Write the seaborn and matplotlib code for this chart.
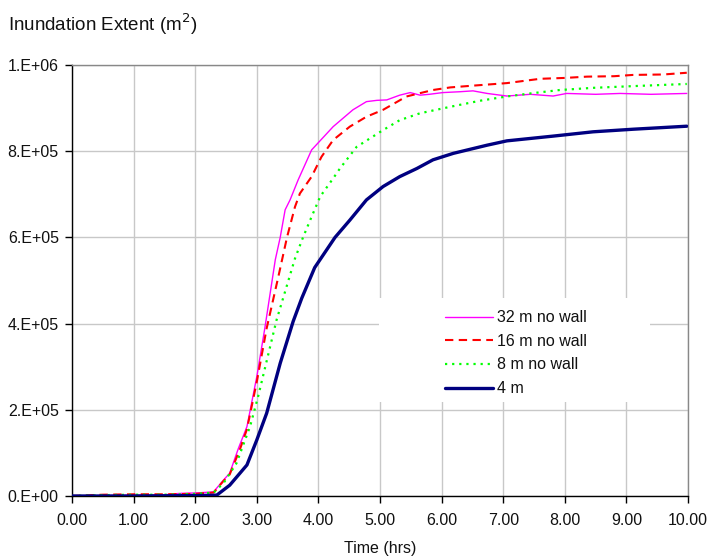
import matplotlib
matplotlib.use("Agg")
import matplotlib.pyplot as plt
from matplotlib.ticker import FuncFormatter
from matplotlib.patches import Rectangle
import pandas as pd
import seaborn as sns

# ---- data (time in hrs, extent in thousands of m^2) ----
t_32 = [0, 0.5, 1.0, 1.5, 1.75, 2.0, 2.25, 2.3, 2.46, 2.56, 2.70, 2.84, 3.00, 3.13, 3.30,
        3.38, 3.46, 3.54, 3.67, 3.89, 4.24, 4.56, 4.78, 4.95, 5.11, 5.32, 5.49, 5.65, 5.8,
        6.02, 6.3, 6.51, 6.74, 7.06, 7.44, 7.81, 8.03, 8.5, 8.9, 9.4, 9.98]
v_32 = [0, 1, 2, 3, 6, 7, 9, 10, 37, 53, 110, 161, 277, 389, 548,
        600, 664, 687, 733, 803, 857, 896, 915, 918, 919, 930, 936, 930, 932,
        936, 938, 940, 934, 928, 932, 928, 934, 932, 934, 932, 934]

t_16 = [0, 0.5, 1.0, 1.5, 2.0, 2.3, 2.46, 2.56, 2.73, 2.84, 3.00, 3.16, 3.35, 3.49, 3.62,
        3.70, 3.89, 4.05, 4.24, 4.51, 4.78, 5.05, 5.43, 5.86, 6.14, 6.5, 7.06, 7.6, 8.0,
        8.36, 8.8, 9.11, 9.6, 9.98]
v_16 = [0, 3, 4, 4, 5, 8, 35, 50, 110, 155, 265, 389, 509, 600, 671,
        702, 741, 787, 826, 857, 880, 896, 927, 942, 948, 952, 958, 968, 970,
        973, 974, 977, 978, 982]

t_8 = [0, 0.5, 1.0, 1.5, 2.0, 2.3, 2.46, 2.67, 2.89, 3.02, 3.32, 3.62, 3.75, 3.89, 4.03,
       4.24, 4.35, 4.62, 5.05, 5.32, 5.65, 6.14, 6.62, 7.06, 7.44, 7.92, 8.46, 9.11, 9.98]
v_8 = [0, 2, 3, 3, 5, 8, 30, 76, 161, 230, 408, 551, 600, 648, 695,
       737, 760, 810, 849, 872, 888, 903, 917, 927, 934, 942, 947, 951, 956]

t_4 = [0, 1.0, 2.0, 2.35, 2.56, 2.84, 3.00, 3.16, 3.38, 3.59, 3.73, 3.94, 4.27, 4.51,
       4.78, 5.05, 5.32, 5.60, 5.86, 6.19, 6.74, 7.06, 7.81, 8.46, 9.11, 9.98]
v_4 = [0, 0, 1, 2, 25, 72, 130, 192, 308, 405, 459, 530, 600, 640,
       687, 718, 741, 760, 780, 795, 814, 824, 835, 845, 851, 858]

series_names = ["32 m no wall", "16 m no wall", "8 m no wall", "4 m"]
x_ticks = [0, 1, 2, 3, 4, 5, 6, 7, 8, 9, 10]
y_ticks = [0, 200000, 400000, 600000, 800000, 1000000]

frames = []
for name, t, v in zip(series_names, [t_32, t_16, t_8, t_4], [v_32, v_16, v_8, v_4]):
    frames.append(pd.DataFrame({"time": t, "extent": [x * 1000 for x in v], "series": name}))
df = pd.concat(frames, ignore_index=True)

styles = {
    "32 m no wall": dict(color="#FF00FF", lw=1.0, ls="-"),
    "16 m no wall": dict(color="#FF0000", lw=1.5, ls=(0, (4, 2.6))),
    "8 m no wall": dict(color="#00FF00", lw=1.6, ls=(0, (1, 2.2))),
    "4 m": dict(color="#000080", lw=2.4, ls="-"),
}

sns.set_style("ticks")
plt.rcParams["font.family"] = ["Liberation Sans", "DejaVu Sans"]
plt.rcParams["font.size"] = 11.5

fig = plt.figure(figsize=(7.14, 5.58), dpi=100)
ax = fig.add_axes([72 / 714, 1 - 496 / 558, 616 / 714, 431 / 558])

for name in series_names:
    s = styles[name]
    sns.lineplot(data=df[df["series"] == name], x="time", y="extent", ax=ax,
                 color=s["color"], linewidth=s["lw"], linestyle=s["ls"],
                 label=name, zorder=3)

ax.set_xlim(0, 10)
ax.set_ylim(0, 1000000)
ax.set_xticks(x_ticks)
ax.set_yticks(y_ticks)
ax.xaxis.set_major_formatter(FuncFormatter(lambda v, p: f"{v:.2f}"))
ax.yaxis.set_major_formatter(FuncFormatter(lambda v, p: f"{v:#.0E}"))
ax.tick_params(axis="both", direction="out", length=5, width=1, color="black",
               labelsize=11.5, labelcolor="#111111")
ax.tick_params(axis="x", pad=7)
ax.tick_params(axis="y", pad=4.5)

ax.set_axisbelow(True)
ax.grid(True, color="#c8c8c8", linewidth=1.0)
for side in ["top", "right"]:
    ax.spines[side].set_visible(True)
    ax.spines[side].set_color("#888888")
    ax.spines[side].set_linewidth(1.0)
for side in ["left", "bottom"]:
    ax.spines[side].set_visible(True)
    ax.spines[side].set_color("black")
    ax.spines[side].set_linewidth(1.0)

ax.set_xlabel("Time (hrs)", fontsize=11.5, labelpad=9.5, color="#111111")
ax.set_ylabel("")

# white legend background (no border)
ax.add_patch(Rectangle((0.498, 0.218), 0.44, 0.241, transform=ax.transAxes,
                       facecolor="white", edgecolor="none", zorder=1.5))
leg = ax.legend(loc="upper left", bbox_to_anchor=(0.6055, 0.431), frameon=False,
                borderaxespad=0, borderpad=0, handlelength=3.0, handletextpad=0.25,
                labelspacing=0.54, fontsize=11.5)
for txt in leg.get_texts():
    txt.set_color("#111111")

fig.text(8 / 714, 1 - 24 / 558, "Inundation Extent (m$^2$)", fontsize=13.5,
         ha="left", va="center", color="#111111")

fig.savefig("out.png", dpi=100)
